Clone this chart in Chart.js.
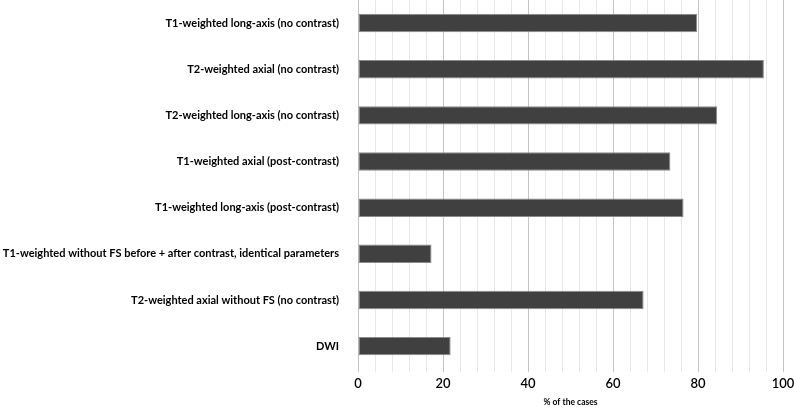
<!DOCTYPE html>
<html>
<head>
<meta charset="utf-8">
<script src="https://cdn.jsdelivr.net/npm/chart.js@4/dist/chart.umd.min.js"></script>
<style>
  html, body { margin: 0; padding: 0; background: #fff; }
  #wrap { width: 794px; height: 407px; position: relative; }
</style>
</head>
<body>
<div id="wrap"><canvas id="c"></canvas></div>
<script>
const categories = [
  "T1-weighted long-axis (no contrast)",
  "T2-weighted axial (no contrast)",
  "T2-weighted long-axis (no contrast)",
  "T1-weighted axial (post-contrast)",
  "T1-weighted long-axis (post-contrast)",
  "T1-weighted without FS before + after contrast, identical parameters",
  "T2-weighted axial without FS (no contrast)",
  "DWI"
];
const percentCases = [79.8, 95.5, 84.5, 73.5, 76.6, 17.3, 67.2, 21.8];
const xTickLabels = [0, 20, 40, 60, 80, 100];
const xAxisTitle = "% of the cases";

const FAMILY = 'Lato';

new Chart(document.getElementById('c'), {
  type: 'bar',
  data: {
    labels: categories,
    datasets: [{
      data: percentCases,
      backgroundColor: '#404040',
      borderColor: '#8a8a8a',
      borderWidth: 1,
      borderSkipped: false,
      categoryPercentage: 0.8,
      barPercentage: 0.5
    }]
  },
  options: {
    indexAxis: 'y',
    responsive: true,
    maintainAspectRatio: false,
    animation: false,
    layout: { padding: { top: 0, right: 11, left: 0, bottom: 0 } },
    plugins: { legend: { display: false }, tooltip: { enabled: false } },
    scales: {
      x: {
        min: 0, max: 100,
        ticks: {
          stepSize: 4,
          autoSkip: false,
          maxRotation: 0,
          padding: 4,
          color: '#000',
          font: { family: FAMILY, size: 13, weight: '600' },
          callback: (v) => xTickLabels.includes(v) ? String(v) : ''
        },
        grid: {
          color: (ctx) => (ctx.tick && ctx.tick.value % 20 === 0) ? '#c4c4c4' : '#e8e8e8',
          lineWidth: 1,
          drawTicks: true,
          tickLength: 3
        },
        border: { display: false },
        title: {
          display: true,
          text: xAxisTitle,
          color: '#000',
          font: { family: FAMILY, size: 8.5, weight: 'bold' },
          padding: { top: 1, bottom: 0 }
        },
        afterFit: (s) => { s.paddingLeft = 0; s.paddingRight = 0; }
      },
      y: {
        ticks: {
          color: '#000',
          padding: 11,
          font: { family: FAMILY, size: 11, weight: 'bold' }
        },
        grid: { display: false },
        border: { display: true, color: '#c4c4c4', width: 1 },
        afterFit: (s) => { s.width = 358; s.paddingTop = 0; s.paddingBottom = 0; }
      }
    }
  }
});
</script>
</body>
</html>
